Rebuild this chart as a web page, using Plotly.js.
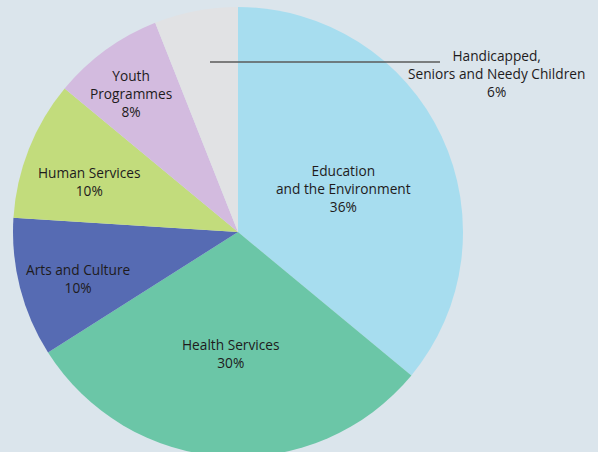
<!DOCTYPE html>
<html>
<head>
<meta charset="utf-8">
<script src="https://cdn.plot.ly/plotly-3.0.1.min.js"></script>
<style>
html,body{margin:0;padding:0;overflow:hidden;background:#dbe5ec;}
#chart{width:598px;height:464px;}
</style>
</head>
<body>
<div id="chart"></div>
<script>
const categories = ["Education<br>and the Environment", "Health Services", "Arts and Culture", "Human Services", "Youth<br>Programmes", "Handicapped,<br>Seniors and Needy Children"];
const values = [36, 30, 10, 10, 8, 6];
const colors = ["#a7ddef", "#6bc6a7", "#566bb3", "#c2dc7c", "#d3bbdf", "#e1e2e4"];
// label anchor positions in pixels (x from left, y from top)
const labelPx = [[344, 188], [231, 353], [78, 278], [89, 181], [131, 93], [496, 73]];

const W = 598, H = 464;
const cx = 238, cy = 232, r = 225;

const annotations = categories.map((c, i) => ({
  text: c + "<br>" + values[i] + "%",
  x: labelPx[i][0] / W,
  y: 1 - labelPx[i][1] / H,
  xref: "paper", yref: "paper",
  xanchor: "center", yanchor: "middle",
  showarrow: false,
  align: "center",
  font: {family: "Open Sans, Noto Sans, sans-serif", size: 13.7, color: "#1e1b1c"}
}));

const data = [{
  type: "pie",
  values: values,
  labels: categories,
  sort: false,
  direction: "clockwise",
  rotation: 0,
  textinfo: "none",
  hoverinfo: "label+percent",
  marker: {colors: colors, line: {width: 0}},
  domain: {x: [(cx - r) / W, (cx + r) / W], y: [1 - (cy + r) / H, 1 - (cy - r) / H]},
  showlegend: false
}];

const layout = {
  width: W, height: H,
  margin: {l: 0, r: 0, t: 0, b: 0},
  paper_bgcolor: "#dbe5ec",
  plot_bgcolor: "#dbe5ec",
  showlegend: false,
  annotations: annotations,
  shapes: [{
    type: "line", xref: "paper", yref: "paper",
    x0: 210 / W, x1: 440 / W, y0: 1 - 62 / H, y1: 1 - 62 / H,
    line: {color: "#5a5a5a", width: 1.5}
  }]
};

Plotly.newPlot("chart", data, layout, {displayModeBar: false, staticPlot: true});
</script>
</body>
</html>
